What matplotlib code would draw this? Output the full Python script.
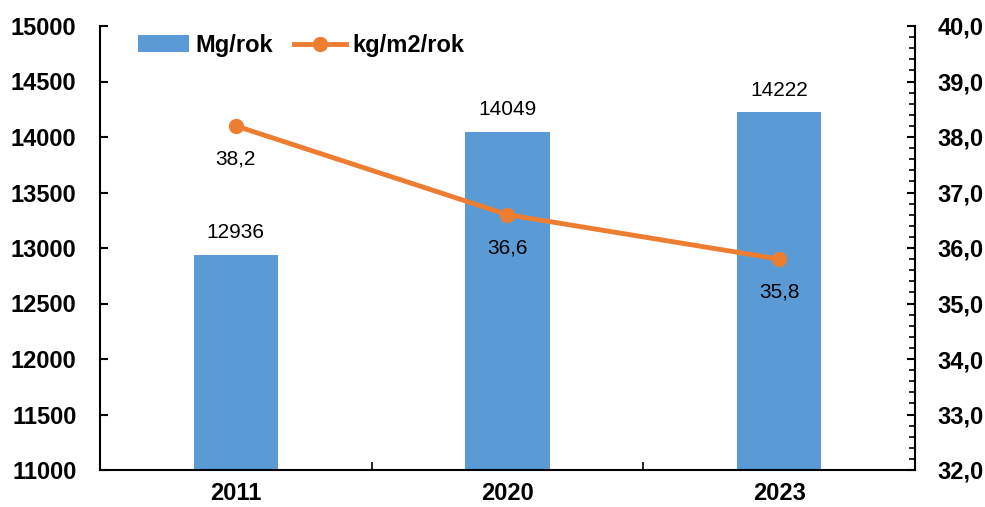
import matplotlib.pyplot as plt
from matplotlib.ticker import MultipleLocator, FuncFormatter, FixedLocator, NullFormatter

plt.rcParams['font.family'] = ['Liberation Sans', 'DejaVu Sans']

years = ['2011', '2020', '2023']
mg_per_year = [12936, 14049, 14222]
kg_per_m2 = [38.2, 36.6, 35.8]

BAR = '#5B9BD5'
LINE = '#ED7D31'

fig = plt.figure(figsize=(9.85, 5.07), dpi=100)
ax = fig.add_axes([100 / 985, 1 - 470 / 507, 815 / 985, 444 / 507])
ax2 = ax.twinx()

x = range(len(years))
bars = ax.bar(x, mg_per_year, width=0.31, color=BAR, label='Mg/rok', zorder=2)
ax.set_ylim(11000, 15000)
ax.set_xlim(-0.5, 2.5)
ax.yaxis.set_major_locator(MultipleLocator(500))

for xi, v in zip(x, mg_per_year):
    ax.annotate(str(v), (xi, v), xytext=(0, 16), textcoords='offset points',
                ha='center', va='center', fontsize=15)

line, = ax2.plot(x, kg_per_m2, color=LINE, lw=3.5, marker='o', ms=10,
                 label='kg/m2/rok', zorder=3)
ax2.set_ylim(32, 40)
ax2.yaxis.set_major_locator(MultipleLocator(1))
ax2.yaxis.set_minor_locator(MultipleLocator(0.2))
ax2.yaxis.set_major_formatter(FuncFormatter(lambda v, p: f'{v:.1f}'.replace('.', ',')))

for xi, v in zip(x, kg_per_m2):
    ax2.annotate(f'{v:.1f}'.replace('.', ','), (xi, v), xytext=(0, -24),
                 textcoords='offset points', ha='center', va='center', fontsize=15)

# category separators on the x axis
ax.set_xticks(list(x))
ax.set_xticklabels(years, fontsize=17, fontweight='bold')
ax.tick_params(axis='x', which='major', length=0, pad=9)
ax.xaxis.set_minor_locator(FixedLocator([0.5, 1.5]))
ax.xaxis.set_minor_formatter(NullFormatter())
ax.tick_params(axis='x', which='minor', direction='in', length=6, width=1.2)

ax.tick_params(axis='y', direction='in', length=6, width=1.5, labelsize=17, pad=17)
for lab in ax.get_yticklabels():
    lab.set_fontweight('bold')
ax2.tick_params(axis='y', which='major', direction='in', length=6, width=1.5,
                labelsize=17, pad=16)
ax2.tick_params(axis='y', which='minor', direction='in', length=4, width=1.2)
for lab in ax2.get_yticklabels():
    lab.set_fontweight('bold')

for a in (ax, ax2):
    a.spines['top'].set_visible(False)
    for s in ('left', 'right', 'bottom'):
        a.spines[s].set_linewidth(1.5)
ax.spines['right'].set_visible(False)
ax2.spines['left'].set_visible(False)
ax2.spines['bottom'].set_visible(False)

leg = ax.legend([bars, line], ['Mg/rok', 'kg/m2/rok'], loc='upper left',
                bbox_to_anchor=(0.02, 1.03), ncol=2, frameon=False,
                prop={'weight': 'bold', 'size': 17}, handlelength=2.2,
                handletextpad=0.25, columnspacing=0.9)

fig.savefig('out.png', dpi=100)
